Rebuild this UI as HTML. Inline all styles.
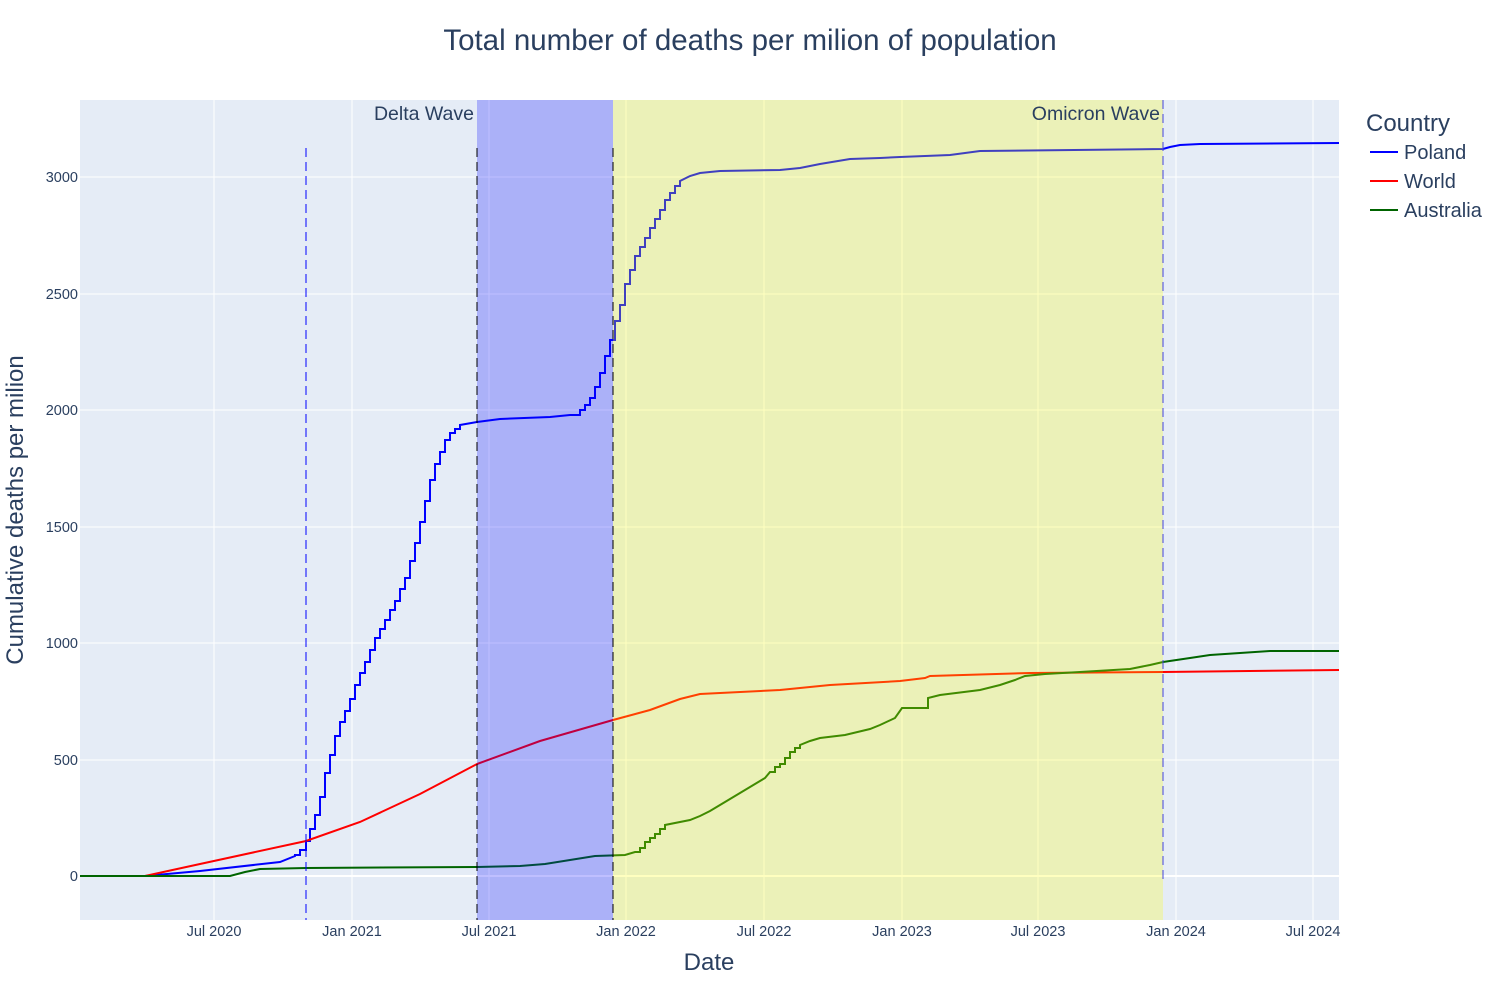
<!DOCTYPE html>
<html><head><meta charset="utf-8"><style>
body{margin:0;background:#fff;}
svg{font-family:"Liberation Sans",Arial,sans-serif;}
</style></head><body>
<svg width="1500" height="1000" viewBox="0 0 1500 1000" xmlns="http://www.w3.org/2000/svg">
<rect width="1500" height="1000" fill="#fff"/>
<rect x="80" y="100" width="1259" height="820" fill="#e5ecf6"/>
<g stroke="#fff" stroke-width="1">
<line x1="214" y1="100" x2="214" y2="920"/><line x1="352" y1="100" x2="352" y2="920"/>
<line x1="489" y1="100" x2="489" y2="920"/><line x1="626" y1="100" x2="626" y2="920"/>
<line x1="764" y1="100" x2="764" y2="920"/><line x1="902" y1="100" x2="902" y2="920"/>
<line x1="1038" y1="100" x2="1038" y2="920"/><line x1="1176" y1="100" x2="1176" y2="920"/>
<line x1="1313" y1="100" x2="1313" y2="920"/>
<line x1="80" y1="177" x2="1339" y2="177"/><line x1="80" y1="294" x2="1339" y2="294"/>
<line x1="80" y1="410" x2="1339" y2="410"/><line x1="80" y1="527" x2="1339" y2="527"/>
<line x1="80" y1="643" x2="1339" y2="643"/><line x1="80" y1="760" x2="1339" y2="760"/>
<line x1="80" y1="876" x2="1339" y2="876" stroke-width="2"/>
</g>
<g fill="none" stroke-width="2">
<path stroke="#0000ff" d="M80,876 L145,876 L200,871 L280,862 L295,856 V855 H300 V850 H306 V841 H310 V829 H315 V815 H320 V797 H325 V773 H330 V755 H335 V736 H340 V722 H345 V711 H350 V699 H355 V685 H360 V673 H365 V662 H370 V650 H375 V638 H380 V629 H385 V620 H390 V610 H395 V601 H400 V589 H405 V578 H410 V561 H415 V543 H420 V522 H425 V501 H430 V480 H435 V464 H440 V452 H445 V440 H450 V433 H455 V429 H460 V425 L477,422 L500,419 L550,417 L570,415 H580 V410 H585 V405 H590 V398 H595 V387 H600 V373 H605 V356 H610 V340 H615 V321 H620 V305 H625 V284 H630 V270 H635 V256 H640 V247 H645 V238 H650 V228 H655 V219 H660 V210 H665 V200 H670 V193 H675 V186 H680 V181 L690,176 L700,173 L720,171 L780,170 L800,168 L820,164 L850,159 L880,158 L900,157 L950,155 L980,151 L1163,149 L1170,147 L1180,145 L1200,144 L1339,143"/>
<path stroke="#ff0000" d="M80,876 L145,876 L200,864 L306,841 L360,822 L420,794 L477,764 L540,741 L613,720 L650,710 L680,699 L700,694 L780,690 L830,685 L900,681 L925,678 L930,676 L1030,673 L1163,672 L1339,670"/>
<path stroke="#006400" d="M80,876 L230,876 L245,872 L260,869 L306,868 L477,867 L520,866 L545,864 L570,860 L595,856 L625,855 L635,852 H640 V848 H645 V842 H650 V838 H655 V834 H660 V829 H665 V825 L690,820 L700,816 L710,811 L720,805 L730,799 L740,793 L750,787 L765,778 L770,772 H775 V767 H780 V764 H785 V758 H790 V752 H795 V748 H800 V745 L810,741 L820,738 L845,735 L870,729 L880,725 L895,718 L902,708 H928 V698 L940,695 L980,690 L1000,685 L1015,680 L1025,676 L1045,674 L1080,672 L1130,669 L1150,665 L1163,662 L1190,658 L1210,655 L1240,653 L1270,651 L1339,651"/>
</g>
<rect x="477" y="100" width="136" height="820" fill="#0000ff" opacity="0.25"/>
<rect x="613" y="100" width="550" height="820" fill="#ffff00" opacity="0.25"/>
<g stroke-width="1" stroke-dasharray="9,5" fill="none">
<line x1="306" y1="148" x2="306" y2="920" stroke="#0000ff"/>
<line x1="477" y1="148" x2="477" y2="920" stroke="#000"/>
<line x1="613" y1="148" x2="613" y2="920" stroke="#000"/>
<line x1="1163" y1="100" x2="1163" y2="880" stroke="#4444dd"/>
</g>
<g fill="#2a3f5f">
<text x="750" y="50" font-size="29.5" text-anchor="middle">Total number of deaths per milion of population</text>
<text x="474" y="120" font-size="19.5" text-anchor="end">Delta Wave</text>
<text x="1160" y="120" font-size="19.5" text-anchor="end">Omicron Wave</text>
<g font-size="14.5" text-anchor="middle">
<text x="214" y="936">Jul 2020</text><text x="352" y="936">Jan 2021</text><text x="489" y="936">Jul 2021</text>
<text x="626" y="936">Jan 2022</text><text x="764" y="936">Jul 2022</text><text x="902" y="936">Jan 2023</text>
<text x="1038" y="936">Jul 2023</text><text x="1176" y="936">Jan 2024</text><text x="1313" y="936">Jul 2024</text>
</g>
<g font-size="14.5" text-anchor="end">
<text x="78" y="182">3000</text><text x="78" y="299">2500</text><text x="78" y="415">2000</text>
<text x="78" y="532">1500</text><text x="78" y="648">1000</text><text x="78" y="765">500</text><text x="78" y="881">0</text>
</g>
<text x="709" y="970" font-size="24" text-anchor="middle">Date</text>
<text transform="translate(23,510) rotate(-90)" font-size="24" text-anchor="middle">Cumulative deaths per milion</text>
<text x="1366" y="131" font-size="24">Country</text>
<text x="1404" y="159" font-size="20">Poland</text>
<text x="1404" y="188" font-size="20">World</text>
<text x="1404" y="217" font-size="20">Australia</text>
</g>
<line x1="1370" y1="152" x2="1398" y2="152" stroke="#0000ff" stroke-width="2"/>
<line x1="1370" y1="181" x2="1398" y2="181" stroke="#ff0000" stroke-width="2"/>
<line x1="1370" y1="210" x2="1398" y2="210" stroke="#006400" stroke-width="2"/>
</svg>
</body></html>
